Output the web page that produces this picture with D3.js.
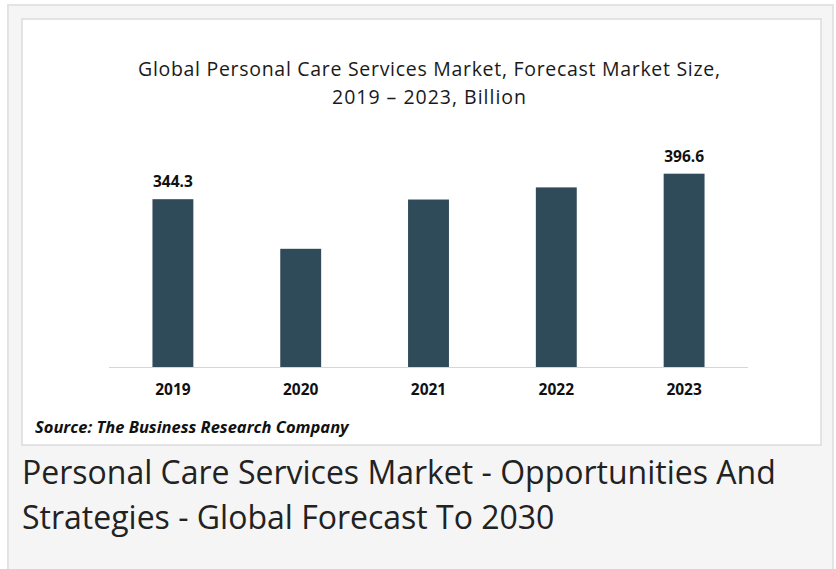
<!DOCTYPE html>
<html lang="en">
<head>
  <meta charset="utf-8" />
  <title>Personal Care Services Market</title>
  <script src="https://d3js.org/d3.v7.min.js"></script>
  <style>
    body {
      margin: 0;
      background: #ffffff;
      font-family: "Open Sans", sans-serif;
    }
  </style>
</head>
<body>
<div id="chart"></div>

<script>
    var years = ['2019', '2020', '2021', '2022', '2023'];
    var values = [344.3, 242.5, 343.6, 368.5, 396.6];
    var shownLabels = ['344.3', '', '', '', '396.6'];
    var titleLines = ['Global Personal Care Services Market, Forecast Market Size,', '2019 \u2013 2023, Billion'];
    var titleWidths = [582, 194];
    var captionLines = ['Personal Care Services Market - Opportunities And', 'Strategies - Global Forecast To 2030'];

    var W = 836, H = 569;
    var svg = d3.select('#chart').append('svg').attr('width', W).attr('height', H);

    // outer grey card
    svg.append('rect').attr('x', 0).attr('y', 0).attr('width', W).attr('height', H).attr('fill', '#ffffff');
    svg.append('rect').attr('x', 8).attr('y', 5).attr('width', 825).attr('height', 580)
        .attr('fill', '#f5f5f5').attr('stroke', '#e3e3e3').attr('stroke-width', 2);

    // white chart box
    svg.append('rect').attr('x', 22).attr('y', 19).attr('width', 799).attr('height', 426)
        .attr('fill', '#ffffff').attr('stroke', '#dcdcdc').attr('stroke-width', 1.5);

    var x = d3.scaleBand().domain(years).range([109, 748]).paddingInner(0.68).paddingOuter(0.34);
    var y = d3.scaleLinear().domain([0, 396.6]).range([367, 173.7]);

    // title (Calibri-like width, stretched to match)
    svg.selectAll('.title').data(titleLines).enter().append('text')
        .attr('x', 429).attr('y', function(d, i) { return 76 + i * 28; })
        .attr('text-anchor', 'middle').attr('font-size', 19.5).attr('fill', '#1a1a1a')
        .attr('textLength', function(d, i) { return titleWidths[i]; })
        .attr('lengthAdjust', 'spacing')
        .text(function(d) { return d; });

    svg.selectAll('.bar').data(values).enter().append('rect')
        .attr('x', function(d, i) { return x(years[i]); })
        .attr('width', x.bandwidth())
        .attr('y', function(d) { return y(d); })
        .attr('height', function(d) { return y(0) - y(d); })
        .attr('fill', '#2f4a59');

    // baseline
    svg.append('line').attr('x1', 109).attr('x2', 748).attr('y1', y(0) + 0.5).attr('y2', y(0) + 0.5)
        .attr('stroke', '#d6d6d6').attr('stroke-width', 1.2);

    svg.selectAll('.lbl').data(values).enter().append('text')
        .attr('x', function(d, i) { return x(years[i]) + x.bandwidth() / 2; })
        .attr('y', function(d) { return y(d) - 12; })
        .attr('text-anchor', 'middle').attr('font-size', 15.5).attr('font-weight', 'bold').attr('fill', '#111')
        .text(function(d, i) { return shownLabels[i]; });

    var axis = d3.axisBottom(x).tickSize(0).tickPadding(17);
    var g = svg.append('g').attr('transform', 'translate(0,' + 367 + ')').call(axis);
    g.select('.domain').remove();
    g.selectAll('text').attr('font-family', '"Open Sans", sans-serif').attr('font-size', 15.5)
        .attr('font-weight', 'bold').attr('fill', '#111');

    svg.append('text').attr('x', 35).attr('y', 433)
        .attr('font-size', 16.5).attr('font-weight', 'bold').attr('font-style', 'italic').attr('fill', '#111')
        .text('Source: The Business Research Company');

    svg.selectAll('.cap').data(captionLines).enter().append('text')
        .attr('x', 22).attr('y', function(d, i) { return 484 + i * 45; })
        .attr('font-size', 32).attr('fill', '#222')
        .text(function(d) { return d; });
</script>

</body>
</html>
